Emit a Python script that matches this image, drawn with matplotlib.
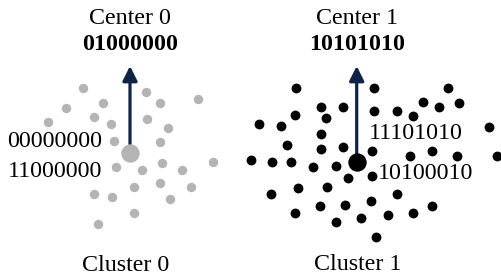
import matplotlib.pyplot as plt

# pixel-space coordinates of the points (y grows downward)
gray_x = [82.7, 145.7, 198, 65.7, 103, 160, 47.7, 94, 110.7, 146.7, 167.7, 114.3, 160,
          115.7, 141.7, 162.3, 182.3, 212.7, 94, 112, 134, 159.7, 191, 170, 134, 97.7]
gray_y = [88.3, 92.3, 99, 107.7, 103, 103, 121.7, 117.3, 123.7, 119.3, 127.7, 140.7, 141.7,
          166.7, 170, 163.3, 170, 162, 194, 197.3, 187.3, 183.3, 187.3, 199.3, 212.7, 224]

black_x = [295.7, 374, 448.3, 320.7, 343, 374, 396.7, 422.7, 439.3, 459.3, 295, 326.3, 412.7,
           258.7, 280.7, 320.7, 489, 287.3, 320.7, 343, 372.3, 251, 272, 291, 312.7, 336,
           348, 372.5, 410, 432, 457.3, 496.7, 270.7, 298.3, 326.7, 396.7, 370.7, 295.3,
           319.7, 345, 388, 413, 432, 336, 361.3, 376]
black_y = [88.3, 88.3, 88.3, 106.7, 106.7, 110.5, 110.5, 102, 107.3, 102.7, 115, 118.3, 116,
           124, 126, 134, 127.3, 144.5, 149, 146.7, 151, 160, 162, 162, 167.3, 166,
           177.5, 175.5, 156, 151.3, 156, 156, 194, 188.3, 186.7, 194, 201, 212.7,
           206, 205, 215, 212.7, 206, 221.7, 218, 236.7]

centers = [(130, 153.3), (356.7, 162.3)]
center_names = ['Center 0', 'Center 1']
center_codes = ['01000000', '10101010']
cluster_names = ['Cluster 0', 'Cluster 1']

GRAY = '#b4b4b4'
NAVY = '#0f2346'
FONT = 'Liberation Serif'
FS = 17.3

fig = plt.figure(figsize=(5.01, 2.80), dpi=100)
ax = fig.add_axes([0, 0, 1, 1])
ax.set_xlim(0, 501)
ax.set_ylim(280, 0)
ax.axis('off')

# arrows from each center upward
for cx, cy in centers:
    ax.annotate('', xy=(cx, 66), xytext=(cx, cy),
                arrowprops=dict(arrowstyle='-|>', lw=2.3, color=NAVY,
                                mutation_scale=22, shrinkA=0, shrinkB=0), zorder=1)

ax.scatter(gray_x, gray_y, s=46, color=GRAY, linewidths=0, zorder=2)
ax.scatter(black_x, black_y, s=50, color='black', linewidths=0, zorder=2)
ax.scatter([centers[0][0]], [centers[0][1]], s=175, color=GRAY, linewidths=0, zorder=3)
ax.scatter([centers[1][0]], [centers[1][1]], s=175, color='black', linewidths=0, zorder=3)

for (cx, cy), name, code in zip(centers, center_names, center_codes):
    ax.text(cx, 24, name, ha='center', va='baseline', fontsize=FS, family=FONT)
    ax.text(cx, 50, code, ha='center', va='baseline', fontsize=FS, family=FONT,
            fontweight='bold')

ax.text(126, 271, cluster_names[0], ha='center', va='baseline', fontsize=FS, family=FONT)
ax.text(358, 270.5, cluster_names[1], ha='center', va='baseline', fontsize=FS, family=FONT)

ax.text(102, 147.3, '00000000', ha='right', va='baseline', fontsize=FS, family=FONT)
ax.text(102, 177.3, '11000000', ha='right', va='baseline', fontsize=FS, family=FONT)
ax.text(368.5, 139.3, '11101010', ha='left', va='baseline', fontsize=FS, family=FONT)
ax.text(378, 179.3, '10100010', ha='left', va='baseline', fontsize=FS, family=FONT)

fig.savefig('out.png', dpi=100)
